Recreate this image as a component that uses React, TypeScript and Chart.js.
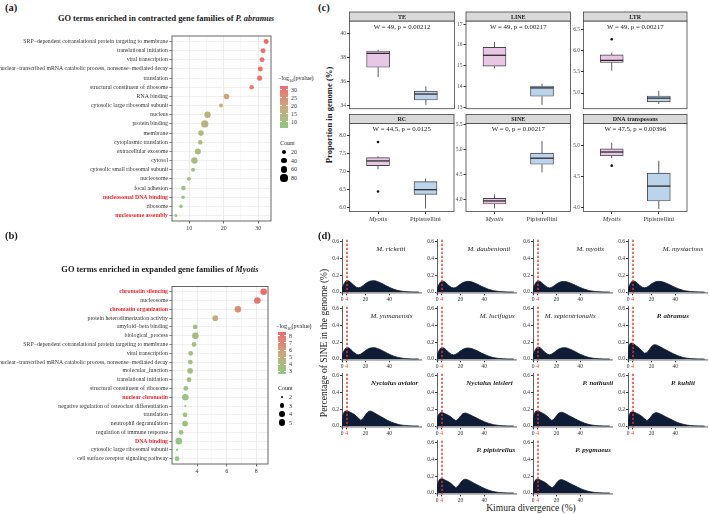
import React, { useEffect, useRef } from "react";
import { Chart, registerables } from "chart.js";

Chart.register(...registerables);

const SERIF = '"Liberation Serif", "Times New Roman", Times, serif';
const INK = "#1a1a1a";
const AXIS_TEXT = "#333333";
const HIGHLIGHT = "#e8262b";

/* ---------- (a) GO terms enriched in contracted gene families of P. abramus ---------- */
const contractedTerms = [
  "SRP\u2212dependent cotranslational protein targeting to membrane",
  "translational initiation",
  "viral transcription",
  "nuclear\u2212transcribed mRNA catabolic process, nonsense\u2212mediated decay",
  "translation",
  "structural constituent of ribosome",
  "RNA binding",
  "cytosolic large ribosomal subunit",
  "nucleus",
  "protein binding",
  "membrane",
  "cytoplasmic translation",
  "extracellular exosome",
  "cytosol",
  "cytosolic small ribosomal subunit",
  "nucleosome",
  "focal adhesion",
  "nucleosomal DNA binding",
  "ribosome",
  "nucleosome assembly",
];
const contractedLogP = [32.3, 31.4, 31.1, 30.6, 30.4, 28.1, 20.8, 19.2, 15.3, 14.5, 13.4, 13.2, 12.5, 11.5, 11.1, 9.9, 8.3, 8.2, 7.6, 6.1];
const contractedCount = [28, 28, 28, 28, 29, 22, 40, 13, 59, 85, 40, 19, 49, 59, 13, 13, 22, 9, 9, 4];
const contractedRed = ["nucleosomal DNA binding", "nucleosome assembly"];
const contractedXLabels = [10, 20, 30];
const contractedXMinor = [15, 25];
const contractedColorBreaks = [10, 15, 20, 25, 30];
const contractedCountBreaks = [20, 40, 60, 80];

/* ---------- (b) GO terms enriched in expanded gene families of Myotis ---------- */
const expandedTerms = [
  "chromatin silencing",
  "nucleosome",
  "chromatin organization",
  "protein heterodimerization activity",
  "amyloid\u2212beta binding",
  "biological_process",
  "SRP\u2212dependent cotranslational protein targeting to membrane",
  "viral transcription",
  "nuclear\u2212transcribed mRNA catabolic process, nonsense\u2212mediated decay",
  "molecular_function",
  "translational initiation",
  "structural constituent of ribosome",
  "nuclear chromatin",
  "negative regulation of osteoclast differentiation",
  "translation",
  "neutrophil degranulation",
  "regulation of immune response",
  "DNA binding",
  "cytosolic large ribosomal subunit",
  "cell surface receptor signaling pathway",
];
const expandedLogP = [8.5, 8.07, 6.76, 5.23, 3.87, 3.89, 3.8, 3.57, 3.55, 3.53, 3.46, 3.24, 3.21, 3.21, 3.19, 3.19, 2.92, 2.77, 2.65, 2.65];
const expandedCount = [5, 5, 5, 4, 3, 5, 3, 3, 3, 4, 3, 3, 5, 2, 3, 4, 3, 5, 2, 3];
const expandedRed = ["chromatin silencing", "chromatin organization", "nuclear chromatin", "DNA binding"];
const expandedXLabels = [4, 6, 8];
const expandedXMinor = [3, 5, 7];
const expandedColorBreaks = [3, 4, 5, 6, 7, 8];
const expandedCountBreaks = [2, 3, 4, 5];

/* ---------- (c) TE proportions, Myotis vs Pipistrellini ---------- */
const teGroups = ["Myotis", "Pipistrellini"];
const teClasses = ["TE", "LINE", "LTR", "RC", "SINE", "DNA transposons"];
const teTests = [
  "W = 49, p = 0.00212",
  "W = 49, p = 0.00217",
  "W = 49, p = 0.00217",
  "W = 44.5, p = 0.0125",
  "W = 0, p = 0.00217",
  "W = 47.5, p = 0.00396",
];
// lower whisker, Q1, median, Q3, upper whisker
const myotisBox = [
  [36.37, 37.18, 38.33, 38.52, 38.63],
  [14.87, 14.98, 15.5, 15.88, 16.15],
  [5.53, 5.72, 5.77, 5.9, 5.95],
  [7.06, 7.16, 7.29, 7.38, 7.42],
  [3.83, 3.92, 3.98, 4.03, 4.11],
  [4.79, 4.83, 4.89, 4.94, 5.04],
];
const pipistrelliniBox = [
  [34.08, 34.48, 34.97, 35.21, 35.6],
  [13.12, 13.53, 13.93, 14.02, 14.14],
  [4.74, 4.79, 4.88, 4.93, 5.05],
  [5.98, 6.37, 6.5, 6.72, 6.81],
  [4.55, 4.71, 4.83, 4.93, 5.17],
  [3.97, 4.1, 4.34, 4.55, 4.75],
];
const myotisOutliers = [[], [], [6.27], [7.81, 6.45], [], [4.67]];
const pipistrelliniOutliers: number[][] = [[], [], [], [], [], []];
const teYTicks = [
  [34, 36, 38, 40],
  [13, 14, 15, 16, 17],
  [5, 5.5, 6, 6.5],
  [6, 6.5, 7, 7.5, 8],
  [4, 4.5, 5, 5.5],
  [4, 4.5, 5],
];
const teYLimits = [
  [33.76, 41.0],
  [12.93, 17.15],
  [4.63, 6.7],
  [5.9, 8.32],
  [3.77, 5.52],
  [3.93, 5.35],
];

/* ---------- (d) SINE landscapes (Kimura divergence) ---------- */
const kimuraBins = [0, 1, 2, 3, 4, 5, 6, 7, 8, 9, 10, 12, 14, 16, 18, 20, 22, 24, 26, 28, 30, 32, 34, 36, 38, 40, 42, 44, 46, 48, 50, 53, 56, 60, 65];
const kimuraTicks = [0, 4, 20, 40];
const kimuraCutoff = 4;
const sineYTicks = [0, 0.2, 0.4, 0.6];

const speciesNames = [
  "M. ricketti", "M. daubentonii", "M. myotis", "M. mystacinus",
  "M. yumanensis", "M. lucifugus", "M. septentrionalis", "P. abramus",
  "Nyctalus aviator", "Nyctalus leisleri", "P. nathusii", "P. kuhlii",
  "P. pipistrellus", "P. pygmaeus",
];
const speciesGenus = [
  "Myotis", "Myotis", "Myotis", "Myotis",
  "Myotis", "Myotis", "Myotis", "Pipistrellini",
  "Pipistrellini", "Pipistrellini", "Pipistrellini", "Pipistrellini",
  "Pipistrellini", "Pipistrellini",
];
const sineRicketti = [0.04, 0.075, 0.105, 0.125, 0.133, 0.135, 0.13, 0.12, 0.108, 0.094, 0.08, 0.058, 0.05, 0.058, 0.078, 0.1, 0.118, 0.13, 0.135, 0.133, 0.125, 0.114, 0.1, 0.086, 0.071, 0.057, 0.044, 0.033, 0.024, 0.017, 0.011, 0.006, 0.003, 0.001, 0];
const sineDaubentonii = [0.038, 0.072, 0.1, 0.12, 0.128, 0.13, 0.125, 0.115, 0.103, 0.09, 0.077, 0.056, 0.048, 0.055, 0.074, 0.095, 0.112, 0.123, 0.127, 0.125, 0.118, 0.107, 0.094, 0.081, 0.067, 0.054, 0.042, 0.031, 0.023, 0.016, 0.011, 0.006, 0.003, 0.001, 0];
const sineMyotis = [0.04, 0.074, 0.102, 0.122, 0.13, 0.131, 0.126, 0.117, 0.105, 0.092, 0.078, 0.057, 0.049, 0.056, 0.075, 0.096, 0.113, 0.123, 0.126, 0.123, 0.116, 0.105, 0.093, 0.08, 0.067, 0.054, 0.042, 0.032, 0.023, 0.016, 0.011, 0.006, 0.003, 0.001, 0];
const sineMystacinus = [0.038, 0.072, 0.101, 0.121, 0.129, 0.13, 0.126, 0.116, 0.104, 0.091, 0.078, 0.057, 0.05, 0.057, 0.076, 0.097, 0.114, 0.124, 0.127, 0.125, 0.118, 0.108, 0.095, 0.082, 0.068, 0.055, 0.043, 0.032, 0.023, 0.016, 0.011, 0.006, 0.003, 0.001, 0];
const sineYumanensis = [0.042, 0.077, 0.107, 0.127, 0.134, 0.135, 0.13, 0.12, 0.107, 0.093, 0.079, 0.058, 0.05, 0.059, 0.079, 0.101, 0.119, 0.131, 0.135, 0.134, 0.126, 0.115, 0.101, 0.087, 0.072, 0.058, 0.045, 0.034, 0.025, 0.018, 0.012, 0.006, 0.003, 0.001, 0];
const sineLucifugus = [0.042, 0.078, 0.108, 0.128, 0.135, 0.135, 0.129, 0.119, 0.106, 0.092, 0.078, 0.057, 0.049, 0.057, 0.076, 0.097, 0.115, 0.127, 0.131, 0.129, 0.122, 0.111, 0.098, 0.084, 0.07, 0.056, 0.044, 0.033, 0.024, 0.017, 0.011, 0.006, 0.003, 0.001, 0];
const sineSeptentrionalis = [0.045, 0.082, 0.113, 0.133, 0.14, 0.14, 0.134, 0.123, 0.11, 0.096, 0.081, 0.059, 0.051, 0.059, 0.079, 0.101, 0.12, 0.131, 0.135, 0.133, 0.125, 0.114, 0.1, 0.086, 0.071, 0.057, 0.045, 0.034, 0.025, 0.017, 0.011, 0.006, 0.003, 0.001, 0];
const sineAbramus = [0.09, 0.17, 0.188, 0.19, 0.186, 0.178, 0.168, 0.157, 0.146, 0.134, 0.122, 0.096, 0.07, 0.075, 0.11, 0.15, 0.17, 0.168, 0.155, 0.14, 0.125, 0.11, 0.095, 0.08, 0.066, 0.053, 0.041, 0.031, 0.022, 0.015, 0.01, 0.005, 0.002, 0.001, 0];
const sineAviator = [0.07, 0.14, 0.17, 0.178, 0.18, 0.177, 0.17, 0.163, 0.157, 0.15, 0.142, 0.12, 0.092, 0.068, 0.09, 0.135, 0.168, 0.178, 0.168, 0.152, 0.136, 0.12, 0.104, 0.088, 0.073, 0.059, 0.046, 0.035, 0.026, 0.018, 0.012, 0.007, 0.003, 0.001, 0];
const sineLeisleri = [0.062, 0.125, 0.15, 0.158, 0.16, 0.157, 0.151, 0.145, 0.139, 0.132, 0.125, 0.106, 0.082, 0.062, 0.082, 0.12, 0.148, 0.155, 0.147, 0.134, 0.12, 0.106, 0.092, 0.078, 0.065, 0.052, 0.041, 0.031, 0.023, 0.016, 0.011, 0.006, 0.003, 0.001, 0];
const sineNathusii = [0.07, 0.14, 0.17, 0.178, 0.18, 0.176, 0.168, 0.16, 0.153, 0.146, 0.138, 0.117, 0.09, 0.066, 0.085, 0.125, 0.155, 0.165, 0.157, 0.143, 0.128, 0.113, 0.098, 0.084, 0.07, 0.056, 0.044, 0.033, 0.024, 0.017, 0.011, 0.006, 0.003, 0.001, 0];
const sineKuhlii = [0.066, 0.132, 0.16, 0.168, 0.17, 0.167, 0.16, 0.153, 0.147, 0.14, 0.132, 0.112, 0.086, 0.064, 0.083, 0.122, 0.151, 0.16, 0.152, 0.139, 0.125, 0.11, 0.096, 0.082, 0.068, 0.055, 0.043, 0.033, 0.024, 0.017, 0.011, 0.006, 0.003, 0.001, 0];
const sinePipistrellus = [0.066, 0.132, 0.16, 0.168, 0.17, 0.167, 0.16, 0.153, 0.147, 0.14, 0.132, 0.112, 0.086, 0.064, 0.084, 0.125, 0.156, 0.165, 0.157, 0.143, 0.128, 0.113, 0.098, 0.084, 0.07, 0.056, 0.044, 0.033, 0.024, 0.017, 0.011, 0.006, 0.003, 0.001, 0];
const sinePygmaeus = [0.064, 0.128, 0.155, 0.163, 0.165, 0.162, 0.156, 0.149, 0.143, 0.136, 0.128, 0.108, 0.083, 0.062, 0.081, 0.121, 0.151, 0.16, 0.152, 0.139, 0.125, 0.11, 0.096, 0.082, 0.068, 0.055, 0.043, 0.033, 0.024, 0.017, 0.011, 0.006, 0.003, 0.001, 0];
const speciesSine = [
  sineRicketti, sineDaubentonii, sineMyotis, sineMystacinus,
  sineYumanensis, sineLucifugus, sineSeptentrionalis, sineAbramus,
  sineAviator, sineLeisleri, sineNathusii, sineKuhlii,
  sinePipistrellus, sinePygmaeus,
];

/* ---------- layout ---------- */
type Box = { l: number; t: number; w: number; h: number };
type Area = { l: number; t: number; r: number; b: number };

const SINE_COL_X = [342, 437, 533, 628];
const SINE_ROW_Y0 = [292, 359, 426, 493];
const SINE_CELL = [
  [0, 0], [0, 1], [0, 2], [0, 3],
  [1, 0], [1, 1], [1, 2], [1, 3],
  [2, 0], [2, 1], [2, 2], [2, 3],
  [3, 1], [3, 2],
];
// species name anchor (Kimura units, %) inside each small panel
const SINE_LABEL_X = [41.5, 44, 48.5, 46.6, 42, 51, 31.5, 38, 44.7, 44.5, 55, 46.6, 50, 51];
const SINE_LABEL_Y = 0.51;
const SINE_X_MAX = 67;
const SINE_Y_MIN = -0.016;
const SINE_Y_MAX = 0.623;

const BOX_COLS: [number, number][] = [[349.5, 454.5], [466, 570.5], [583.5, 688]];
const BOX_ROWS: [number, number][] = [[21, 110.5], [123.5, 211.5]];
const STRIP_H = 9;
const BOX_PX = 23;
const MYOTIS_FILL = "#e8c6e6";
const PIP_FILL = "#bcd3ec";
const NAVY = "#0e1c36";
const CUTOFF_RED = "#f0302a";

function fit(canvas: Box, area: Area) {
  return {
    padding: { left: 0, bottom: 0, top: area.t - canvas.t, right: canvas.l + canvas.w - area.r },
    yWidth: area.l - canvas.l,
    xHeight: canvas.t + canvas.h - area.b,
  };
}

/* ---------- colour scale shared by the GO dot plots ---------- */
const LOW_RGB = [146, 199, 131];
const MID_RGB = [201, 170, 124];
const HIGH_RGB = [242, 106, 106];
function scoreColor(t: number) {
  const u = Math.max(0, Math.min(1, t));
  const a = u < 0.5 ? LOW_RGB : MID_RGB;
  const b = u < 0.5 ? MID_RGB : HIGH_RGB;
  const s = u < 0.5 ? u * 2 : (u - 0.5) * 2;
  const c = a.map((v, i) => Math.round(v + (b[i] - v) * s));
  return `rgb(${c[0]},${c[1]},${c[2]})`;
}
const contractedRadius = (c: number) => 0.9 + 0.3 * Math.sqrt(c);
const expandedRadius = (c: number) => 1.1 + 2.2 * Math.sqrt(Math.max(0, c - 2) / 3);

function ChartCanvas({ box, build }: { box: Box; build: () => any }) {
  const ref = useRef<HTMLCanvasElement | null>(null);
  useEffect(() => {
    if (!ref.current) return;
    const chart = new Chart(ref.current, build());
    return () => chart.destroy();
  }, []);
  return (
    <canvas
      ref={ref}
      width={box.w}
      height={box.h}
      style={{ position: "absolute", left: box.l, top: box.t, width: box.w, height: box.h }}
    />
  );
}

const framePlugin = (color: string, width: number) => ({
  id: "panelFrame",
  afterDraw(chart: any) {
    const { ctx, chartArea: a } = chart;
    ctx.save();
    ctx.strokeStyle = color;
    ctx.lineWidth = width;
    ctx.strokeRect(a.left, a.top, a.right - a.left, a.bottom - a.top);
    ctx.restore();
  },
});

/* ---------- GO dot plot ---------- */
function dotPlot(p: {
  terms: string[]; logP: number[]; counts: number[]; red: string[];
  xMin: number; xMax: number; xLabels: number[]; xMinor: number[];
  radius: (c: number) => number; canvas: Box; area: Area;
}) {
  const f = fit(p.canvas, p.area);
  const lo = Math.min(...p.logP);
  const hi = Math.max(...p.logP);
  const isRed = (v: any) => p.red.includes(p.terms[Math.round(v)]);
  const isMajor = (v: any) => p.xLabels.includes(v);
  return {
    type: "bubble",
    data: {
      datasets: [{
        data: p.terms.map((_, i) => ({ x: p.logP[i], y: i, r: p.radius(p.counts[i]) })),
        backgroundColor: p.logP.map((v) => scoreColor((v - lo) / (hi - lo))),
        borderWidth: 0,
      }],
    },
    options: {
      responsive: false, animation: false, events: [],
      layout: { padding: f.padding },
      plugins: { legend: { display: false }, tooltip: { enabled: false } },
      scales: {
        x: {
          type: "linear", min: p.xMin, max: p.xMax,
          afterBuildTicks: (s: any) => {
            s.ticks = [...p.xLabels, ...p.xMinor].sort((a, b) => a - b).map((v) => ({ value: v }));
          },
          afterFit: (s: any) => { s.height = f.xHeight; },
          ticks: {
            autoSkip: false, maxRotation: 0, padding: 1, color: AXIS_TEXT,
            font: { family: SERIF, size: 6 },
            callback: (v: any) => (isMajor(v) ? String(v) : ""),
          },
          grid: {
            color: (c: any) => (isMajor(c.tick?.value) ? "#e2e2e2" : "#f0f0f0"),
            lineWidth: (c: any) => (isMajor(c.tick?.value) ? 0.7 : 0.45),
            tickColor: (c: any) => (isMajor(c.tick?.value) ? "#333" : "rgba(0,0,0,0)"),
            tickLength: 2.5,
          },
          border: { display: false },
        },
        y: {
          type: "linear", reverse: true, min: -0.6, max: p.terms.length - 0.4,
          afterBuildTicks: (s: any) => { s.ticks = p.terms.map((_, i) => ({ value: i })); },
          afterFit: (s: any) => { s.width = f.yWidth; },
          ticks: {
            autoSkip: false, padding: 1.5,
            callback: (v: any) => p.terms[Math.round(v)],
            color: (c: any) => (isRed(c.tick?.value) ? HIGHLIGHT : AXIS_TEXT),
            font: (c: any) => ({ family: SERIF, size: 5.8, weight: isRed(c.tick?.value) ? "bold" : "normal" }),
          },
          grid: { color: "#e6e6e6", lineWidth: 0.6, tickColor: "#333", tickLength: 2.5 },
          border: { display: false },
        },
      },
    },
    plugins: [framePlugin("#555", 0.9)],
  };
}

/* ---------- TE boxplot facet ---------- */
function boxPanel(k: number, bottomRow: boolean, canvas: Box, area: Area) {
  const f = fit(canvas, area);
  const stats = [myotisBox[k], pipistrelliniBox[k]];
  const decimals = teYTicks[k].some((v) => !Number.isInteger(v));
  const outliers = [
    ...myotisOutliers[k].map((y) => ({ x: 1, y })),
    ...pipistrelliniOutliers[k].map((y) => ({ x: 2, y })),
  ];
  const boxParts = {
    id: "boxParts",
    beforeDatasetsDraw(chart: any) {
      const { ctx, scales: { x, y } } = chart;
      ctx.save();
      ctx.strokeStyle = "#333";
      ctx.lineWidth = 0.8;
      stats.forEach((s, i) => {
        const px = x.getPixelForValue(i + 1);
        ctx.beginPath();
        ctx.moveTo(px, y.getPixelForValue(s[0]));
        ctx.lineTo(px, y.getPixelForValue(s[1]));
        ctx.moveTo(px, y.getPixelForValue(s[3]));
        ctx.lineTo(px, y.getPixelForValue(s[4]));
        ctx.stroke();
      });
      ctx.restore();
    },
    afterDatasetsDraw(chart: any) {
      const { ctx, scales: { x, y } } = chart;
      ctx.save();
      ctx.strokeStyle = "#2b2b2b";
      ctx.lineWidth = 1.3;
      stats.forEach((s, i) => {
        const px = x.getPixelForValue(i + 1);
        const py = y.getPixelForValue(s[2]);
        ctx.beginPath();
        ctx.moveTo(px - BOX_PX / 2, py);
        ctx.lineTo(px + BOX_PX / 2, py);
        ctx.stroke();
      });
      ctx.restore();
    },
    afterDraw(chart: any) {
      const { ctx, chartArea: a } = chart;
      const w = a.right - a.left;
      ctx.save();
      ctx.lineWidth = 0.8;
      ctx.strokeStyle = "#444";
      ctx.strokeRect(a.left, a.top, w, a.bottom - a.top);
      ctx.fillStyle = "#d9d9d9";
      ctx.fillRect(a.left, a.top - STRIP_H, w, STRIP_H);
      ctx.strokeRect(a.left, a.top - STRIP_H, w, STRIP_H);
      ctx.fillStyle = INK;
      ctx.textAlign = "center";
      ctx.textBaseline = "middle";
      ctx.font = `bold 6px ${SERIF}`;
      ctx.fillText(teClasses[k], a.left + w / 2, a.top - STRIP_H / 2 + 0.5);
      ctx.font = `6.8px ${SERIF}`;
      ctx.fillText(teTests[k], a.left + w / 2, a.top + 6);
      ctx.restore();
    },
  };
  return {
    type: "bar",
    data: {
      datasets: [
        {
          type: "bar",
          data: stats.map((s, i) => ({ x: i + 1, y: [s[1], s[3]] })),
          backgroundColor: [MYOTIS_FILL, PIP_FILL],
          borderColor: "#444",
          borderWidth: 0.9,
          borderSkipped: false,
          barThickness: BOX_PX,
        },
        {
          type: "scatter",
          data: outliers,
          pointRadius: 1.3,
          pointBackgroundColor: "#111",
          pointBorderWidth: 0,
        },
      ],
    },
    options: {
      responsive: false, animation: false, events: [],
      layout: { padding: f.padding },
      plugins: { legend: { display: false }, tooltip: { enabled: false } },
      scales: {
        x: {
          type: "linear", min: 0.4, max: 2.6, offset: false,
          afterBuildTicks: (s: any) => { s.ticks = [{ value: 1 }, { value: 2 }]; },
          afterFit: (s: any) => { s.height = f.xHeight; },
          ticks: {
            display: bottomRow, autoSkip: false, maxRotation: 0, padding: 1, color: AXIS_TEXT,
            callback: (v: any) => teGroups[Math.round(v) - 1],
            font: (c: any) => ({ family: SERIF, size: 6.6, style: c.tick?.value === 1 ? "italic" : "normal" }),
          },
          grid: { offset: false, drawOnChartArea: false, drawTicks: bottomRow, tickLength: 2.5, tickColor: "#333" },
          border: { display: false },
        },
        y: {
          type: "linear", min: teYLimits[k][0], max: teYLimits[k][1],
          afterBuildTicks: (s: any) => { s.ticks = teYTicks[k].map((v) => ({ value: v })); },
          afterFit: (s: any) => { s.width = f.yWidth; },
          ticks: {
            autoSkip: false, padding: 1, color: "#4d4d4d",
            font: { family: SERIF, size: 5.5 },
            callback: (v: any) => (decimals ? Number(v).toFixed(1) : String(v)),
          },
          grid: { drawOnChartArea: false, tickLength: 2.5, tickColor: "#333" },
          border: { display: false },
        },
      },
    },
    plugins: [boxParts],
  };
}

/* ---------- SINE landscape panel ---------- */
function sineLayout(i: number) {
  const [row, col] = SINE_CELL[i];
  const ax = SINE_COL_X[col];
  const y0 = SINE_ROW_Y0[row];
  const area: Area = { l: ax, t: y0 - 52.3, r: ax + 79, b: y0 + 1.35 };
  const l = ax - 18;
  const t = Math.floor(area.t) - 4;
  const canvas: Box = { l, t, w: Math.min(709, Math.ceil(area.r) + 3) - l, h: Math.ceil(y0 + 12) - t };
  return { canvas, area };
}

function sinePanel(i: number) {
  const { canvas, area } = sineLayout(i);
  const f = fit(canvas, area);
  const pip = speciesGenus[i] === "Pipistrellini";
  const overlay = {
    id: "sineOverlay",
    afterDatasetsDraw(chart: any) {
      const { ctx, chartArea: a, scales: { x, y } } = chart;
      ctx.save();
      const px = Math.round(x.getPixelForValue(kimuraCutoff));
      ctx.strokeStyle = CUTOFF_RED;
      ctx.lineWidth = 1.4;
      ctx.setLineDash([2.4, 1.6]);
      ctx.beginPath();
      ctx.moveTo(px, a.top);
      ctx.lineTo(px, a.bottom);
      ctx.stroke();
      ctx.setLineDash([]);
      ctx.fillStyle = INK;
      ctx.textAlign = "center";
      ctx.textBaseline = "middle";
      ctx.font = `${pip ? "italic bold" : "italic"} 7px ${SERIF}`;
      ctx.fillText(speciesNames[i], x.getPixelForValue(SINE_LABEL_X[i]), y.getPixelForValue(SINE_LABEL_Y));
      ctx.restore();
    },
  };
  return {
    type: "line",
    data: {
      datasets: [{
        data: kimuraBins.map((x, j) => ({ x, y: speciesSine[i][j] })),
        fill: "origin",
        backgroundColor: NAVY,
        borderColor: NAVY,
        borderWidth: 0.8,
        pointRadius: 0,
        tension: 0,
      }],
    },
    options: {
      responsive: false, animation: false, events: [],
      layout: { padding: f.padding },
      plugins: { legend: { display: false }, tooltip: { enabled: false } },
      scales: {
        x: {
          type: "linear", min: 0, max: SINE_X_MAX,
          afterBuildTicks: (s: any) => { s.ticks = kimuraTicks.map((v) => ({ value: v })); },
          afterFit: (s: any) => { s.height = f.xHeight; },
          ticks: {
            autoSkip: false, maxRotation: 0, padding: 0.5,
            color: (c: any) => (c.tick?.value === kimuraCutoff ? CUTOFF_RED : AXIS_TEXT),
            font: { family: SERIF, size: 5.5 },
            callback: (v: any) => String(v),
          },
          grid: { drawOnChartArea: false, tickLength: 2, tickColor: "#333" },
          border: { color: "#a3a3a3", width: 1.8 },
        },
        y: {
          type: "linear", min: SINE_Y_MIN, max: SINE_Y_MAX,
          afterBuildTicks: (s: any) => { s.ticks = sineYTicks.map((v) => ({ value: v })); },
          afterFit: (s: any) => { s.width = f.yWidth; },
          ticks: {
            autoSkip: false, padding: 1, color: AXIS_TEXT,
            font: { family: SERIF, size: 5.5 },
            callback: (v: any) => Number(v).toFixed(1),
          },
          grid: { drawOnChartArea: false, tickLength: 2, tickColor: "#333" },
          border: { color: "#333", width: 0.8 },
        },
      },
    },
    plugins: [overlay],
  };
}

/* ---------- HTML text pieces ---------- */
function Text(props: { x: number; y: number; children: any; size: number; bold?: boolean; italic?: boolean; anchor?: "left" | "center"; color?: string; rotate?: boolean }) {
  const { x, y, size, bold, italic, anchor = "left", color = INK, rotate } = props;
  const tx = anchor === "center" || rotate ? "-50%" : "0";
  return (
    <div
      style={{
        position: "absolute", left: x, top: y, whiteSpace: "nowrap",
        fontFamily: SERIF, fontSize: size, lineHeight: 1, color,
        fontWeight: bold ? "bold" : "normal", fontStyle: italic ? "italic" : "normal",
        transform: `translate(${tx}, -50%)${rotate ? " rotate(-90deg)" : ""}`,
      }}
    >
      {props.children}
    </div>
  );
}

function DotLegend(p: {
  x: number; titleY: number; barTop: number; barH: number; lo: number; hi: number;
  breaks: number[]; countTitleY: number; countBreaks: number[]; dotYs: number[]; radius: (c: number) => number;
}) {
  const stops = [1, 0.75, 0.5, 0.25, 0].map((t) => scoreColor(t)).join(", ");
  const yOf = (v: number) => p.barTop + ((p.hi - v) / (p.hi - p.lo)) * p.barH;
  return (
    <>
      <Text x={p.x - 2} y={p.titleY} size={6}>
        {"\u2212log"}<span style={{ fontSize: 4.5, verticalAlign: -1.5 }}>10</span>(pvalue)
      </Text>
      <div style={{ position: "absolute", left: p.x, top: p.barTop, width: 8, height: p.barH, background: `linear-gradient(to bottom, ${stops})` }} />
      {p.breaks.map((b) => (
        <React.Fragment key={b}>
          <div style={{ position: "absolute", left: p.x, top: yOf(b) - 0.3, width: 1.6, height: 0.6, background: "#fff" }} />
          <div style={{ position: "absolute", left: p.x + 6.4, top: yOf(b) - 0.3, width: 1.6, height: 0.6, background: "#fff" }} />
          <Text x={p.x + 11} y={yOf(b)} size={6} color={AXIS_TEXT}>{b}</Text>
        </React.Fragment>
      ))}
      <Text x={p.x} y={p.countTitleY} size={6}>Count</Text>
      {p.countBreaks.map((c, i) => {
        const r = p.radius(c);
        return (
          <React.Fragment key={c}>
            <div style={{ position: "absolute", left: p.x + 4 - r, top: p.dotYs[i] - r, width: 2 * r, height: 2 * r, borderRadius: "50%", background: "#000" }} />
            <Text x={p.x + 11} y={p.dotYs[i]} size={6} color={AXIS_TEXT}>{c}</Text>
          </React.Fragment>
        );
      })}
    </>
  );
}

const A_CANVAS: Box = { l: 0, t: 26, w: 276, h: 209 };
const A_AREA: Area = { l: 172, t: 36, r: 271, b: 221 };
const B_CANVAS: Box = { l: 0, t: 278, w: 273, h: 200 };
const B_AREA: Area = { l: 172, t: 286.5, r: 268, b: 464 };

function boxLayout(k: number) {
  const row = Math.floor(k / 3);
  const [cl, cr] = BOX_COLS[k % 3];
  const [rt, rb] = BOX_ROWS[row];
  const area: Area = { l: cl, t: rt, r: cr, b: rb };
  const l = Math.floor(cl) - 22;
  const t = Math.floor(rt - STRIP_H) - 1;
  const bottom = row === 1 ? 225 : 113;
  const canvas: Box = { l, t, w: Math.ceil(cr) + 3 - l, h: bottom - t };
  return { canvas, area, bottomRow: row === 1 };
}

export default function App() {
  return (
    <div style={{ position: "fixed", left: 0, top: 0, width: 709, height: 514, background: "#fff", overflow: "hidden" }}>
      {/* (a) */}
      <Text x={5} y={8} size={10.5} bold>(a)</Text>
      <Text x={166} y={19} size={8.4} bold anchor="center">
        GO terms enriched in contracted gene families of <i>P. abramus</i>
      </Text>
      <ChartCanvas
        box={A_CANVAS}
        build={() => dotPlot({
          terms: contractedTerms, logP: contractedLogP, counts: contractedCount, red: contractedRed,
          xMin: 5.0, xMax: 33.7, xLabels: contractedXLabels, xMinor: contractedXMinor,
          radius: contractedRadius, canvas: A_CANVAS, area: A_AREA,
        })}
      />
      <DotLegend
        x={280} titleY={79} barTop={86} barH={42}
        lo={Math.min(...contractedLogP)} hi={Math.max(...contractedLogP)} breaks={contractedColorBreaks}
        countTitleY={143} countBreaks={contractedCountBreaks} dotYs={[152, 160.7, 169.3, 178]} radius={contractedRadius}
      />

      {/* (b) */}
      <Text x={5} y={236} size={10.5} bold>(b)</Text>
      <Text x={160} y={270} size={8.4} bold anchor="center">
        GO terms enriched in expanded gene families of <i>Myotis</i>
      </Text>
      <ChartCanvas
        box={B_CANVAS}
        build={() => dotPlot({
          terms: expandedTerms, logP: expandedLogP, counts: expandedCount, red: expandedRed,
          xMin: 2.31, xMax: 8.79, xLabels: expandedXLabels, xMinor: expandedXMinor,
          radius: expandedRadius, canvas: B_CANVAS, area: B_AREA,
        })}
      />
      <DotLegend
        x={278} titleY={327} barTop={332} barH={42}
        lo={Math.min(...expandedLogP)} hi={Math.max(...expandedLogP)} breaks={expandedColorBreaks}
        countTitleY={388} countBreaks={expandedCountBreaks} dotYs={[397.3, 405.7, 414, 422.7]} radius={expandedRadius}
      />

      {/* (c) */}
      <Text x={318} y={8} size={10.5} bold>(c)</Text>
      <Text x={329} y={115} size={8.6} bold rotate>Proportion in genome (%)</Text>
      {teClasses.map((_, k) => {
        const { canvas, area, bottomRow } = boxLayout(k);
        return <ChartCanvas key={k} box={canvas} build={() => boxPanel(k, bottomRow, canvas, area)} />;
      })}

      {/* (d) */}
      <Text x={318} y={236} size={10.5} bold>(d)</Text>
      <Text x={325} y={343} size={9.5} rotate>Percentage of SINE in the genome (%)</Text>
      <Text x={531} y={509} size={9.5} anchor="center">Kimura divergence (%)</Text>
      {speciesNames.map((_, i) => {
        const { canvas } = sineLayout(i);
        return <ChartCanvas key={i} box={canvas} build={() => sinePanel(i)} />;
      })}
    </div>
  );
}
